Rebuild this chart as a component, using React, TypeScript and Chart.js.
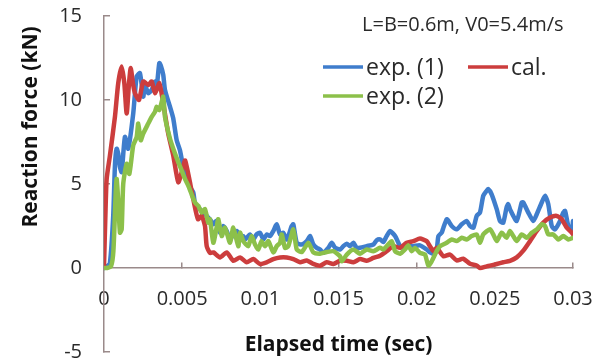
import React, { useEffect, useRef } from "react";
import { Chart, registerables } from "chart.js";

Chart.register(...registerables);

// ---------- data ----------
const xTickValues = [0, 0.005, 0.01, 0.015, 0.02, 0.025, 0.03];
const xTickLabels = ["0", "0.005", "0.01", "0.015", "0.02", "0.025", "0.03"];
const yTickValues = [-5, 0, 5, 10, 15];
const yTickLabels = ["-5", "0", "5", "10", "15"];
const seriesNames = ["exp. (1)", "cal.", "exp. (2)"];
const noteText = "L=B=0.6m, V0=5.4m/s";
const xTitle = "Elapsed time (sec)";
const yTitle = "Reaction force (kN)";

const exp1Time = [
  0, 0.0002, 0.00038, 0.00059, 0.0007, 0.00081, 0.00091, 0.00102, 0.00113, 0.00134,
  0.00155, 0.00187, 0.00209, 0.0023, 0.00251, 0.00262, 0.00283, 0.00305, 0.00326, 0.00337,
  0.00354, 0.00365, 0.00379, 0.0039, 0.00422, 0.00443, 0.00465, 0.00486, 0.00507, 0.00529,
  0.0055, 0.00571, 0.00582, 0.00593, 0.00614, 0.00635, 0.00657, 0.00678, 0.00699, 0.0072,
  0.00742, 0.00763, 0.00785, 0.00806, 0.00827, 0.00849, 0.0087, 0.00891, 0.00902, 0.00934,
  0.00955, 0.00976, 0.00998, 0.0102, 0.01041, 0.01062, 0.01083, 0.01105, 0.01126, 0.01147,
  0.01169, 0.01201, 0.01211, 0.01233, 0.01265, 0.01297, 0.01318, 0.01339, 0.01361, 0.01382,
  0.01403, 0.01435, 0.01457, 0.01478, 0.0151, 0.01531, 0.01553, 0.01574, 0.01595, 0.01616,
  0.01638, 0.0168, 0.01723, 0.01744, 0.01766, 0.01787, 0.01808, 0.0183, 0.01862, 0.01894,
  0.01915, 0.01936, 0.01979, 0.02021, 0.02064, 0.02085, 0.02107, 0.02128, 0.02139, 0.0216,
  0.02171, 0.02192, 0.02203, 0.02224, 0.02256, 0.02288, 0.0232, 0.02341, 0.02363, 0.02384,
  0.02405, 0.02426, 0.02448, 0.02458, 0.02479, 0.02512, 0.02533, 0.02554, 0.02575, 0.02586,
  0.02597, 0.0264, 0.02672, 0.02682, 0.02714, 0.02746, 0.02768, 0.028, 0.02821, 0.02842,
  0.02864, 0.02885, 0.02917, 0.02938, 0.02949, 0.0297, 0.02992, 0.03,
];
const exp1Force = [
  0, 0.1, 0.3, 3.1, 6.1, 7.1, 6.8, 6.0, 5.7, 7.8,
  7.1, 9.2, 11.4, 11.6, 10.2, 10.9, 10.4, 10.6, 11.1, 10.8,
  12.2, 12.0, 11.5, 10.6, 9.6, 8.9, 7.6, 7.0, 6.0, 5.3,
  4.8, 4.5, 3.8, 3.7, 3.5, 3.3, 3.1, 2.9, 2.6, 2.8,
  2.1, 2.5, 2.2, 1.7, 2.0, 2.2, 1.9, 1.9, 1.7, 2.0,
  1.7, 2.0, 2.1, 1.7, 2.0, 1.9, 2.2, 2.6, 2.0, 2.1,
  1.7, 2.5, 2.6, 1.5, 1.4, 1.6, 1.9, 1.4, 1.2, 1.1,
  0.9, 1.2, 1.5, 1.2, 1.1, 1.3, 1.45, 1.3, 1.5, 1.2,
  1.2, 1.3, 1.4, 1.65, 1.7, 1.55, 1.9, 2.2, 1.9, 1.3,
  1.2, 1.3, 1.3, 1.35, 1.1, 0.93, 0.85, 1.1, 1.9, 2.1,
  2.4, 2.9, 2.8, 2.5, 2.3, 2.6, 2.8, 2.5, 2.4, 3.1,
  3.3, 4.3, 4.6, 4.7, 4.4, 3.5, 2.8, 2.7, 3.6, 3.8,
  3.5, 2.8, 3.9, 3.9, 3.3, 2.8, 3.2, 3.9, 4.3, 3.8,
  2.5, 2.3, 2.8, 3.3, 3.4, 2.5, 2.2, 2.8,
];

const calTime = [
  0, 0.0001, 0.00017, 0.00038, 0.0007, 0.00091, 0.00113, 0.0013, 0.00145, 0.0016,
  0.00171, 0.00185, 0.00198, 0.00224, 0.00251, 0.00283, 0.00305, 0.00326, 0.00354, 0.00379,
  0.00411, 0.00443, 0.00475, 0.00497, 0.00518, 0.0053, 0.0055, 0.00571, 0.00601, 0.00625,
  0.00646, 0.00657, 0.00678, 0.007, 0.00742, 0.00785, 0.00827, 0.0087, 0.00913, 0.00955,
  0.00998, 0.0104, 0.01083, 0.01126, 0.01169, 0.01211, 0.01254, 0.01297, 0.01339, 0.01382,
  0.01425, 0.01467, 0.0151, 0.01553, 0.01595, 0.01638, 0.0168, 0.01723, 0.01766, 0.01808,
  0.01851, 0.01894, 0.01936, 0.01979, 0.02021, 0.02064, 0.02085, 0.02107, 0.02128, 0.02171,
  0.02213, 0.02256, 0.02298, 0.02341, 0.02384, 0.02405, 0.02448, 0.02469, 0.02512, 0.02554,
  0.02597, 0.0264, 0.02682, 0.02725, 0.02768, 0.0281, 0.02853, 0.02896, 0.02928, 0.0296,
  0.02992, 0.03,
];
const calForce = [
  0.1, 3.5, 5.3, 6.7, 9.0, 11.0, 12.0, 11.0, 9.2, 11.0,
  11.9, 11.0, 10.4, 10.0, 11.1, 10.9, 11.1, 10.4, 11.0, 9.8,
  8.0, 6.7, 5.1, 5.7, 6.4, 6.0, 5.1, 4.1, 2.9, 3.1,
  2.5, 1.3, 0.9, 0.93, 0.63, 0.93, 0.43, 0.63, 0.34, 0.53,
  0.24, 0.34, 0.53, 0.63, 0.63, 0.53, 0.34, 0.45, 0.24, 0.14,
  0.34, 0.24, 0.43, 0.43, 0.34, 0.53, 0.43, 0.6, 0.73, 1.0,
  1.3, 1.2, 1.5, 1.6, 1.75, 1.6, 1.3, 1.0, 1.2, 0.7,
  0.8, 0.45, 0.55, 0.25, 0.15, 0.0, 0.1, 0.14, 0.24, 0.34,
  0.43, 0.63, 1.03, 1.6, 2.2, 2.7, 3.0, 3.1, 2.9, 2.4,
  2.1, 2.0,
];

const exp2Time = [
  0, 0.0002, 0.00045, 0.0006, 0.00075, 0.00081, 0.00091, 0.00102, 0.00113, 0.00123,
  0.00145, 0.00162, 0.00187, 0.00209, 0.00219, 0.00235, 0.00251, 0.00283, 0.00305, 0.00326,
  0.00337, 0.00354, 0.00379, 0.0039, 0.00422, 0.00443, 0.00475, 0.00497, 0.00518, 0.00539,
  0.0056, 0.00582, 0.00603, 0.00625, 0.00646, 0.00667, 0.00678, 0.00699, 0.0072, 0.00731,
  0.00753, 0.00774, 0.00806, 0.00827, 0.00859, 0.0087, 0.00891, 0.00923, 0.00944, 0.00966,
  0.00987, 0.01008, 0.0103, 0.01051, 0.01083, 0.01105, 0.01126, 0.01137, 0.01158, 0.01179,
  0.01211, 0.01233, 0.01265, 0.01307, 0.01339, 0.01382, 0.01425, 0.01467, 0.0151, 0.01521,
  0.01553, 0.01595, 0.01638, 0.0168, 0.01723, 0.01766, 0.01787, 0.01808, 0.0184, 0.01862,
  0.01894, 0.01925, 0.01947, 0.01968, 0.0199, 0.02021, 0.02053, 0.02075, 0.02096, 0.02128,
  0.02149, 0.02192, 0.02224, 0.02256, 0.02288, 0.0232, 0.02352, 0.02384, 0.02405, 0.02426,
  0.02469, 0.0249, 0.02512, 0.02544, 0.02575, 0.02597, 0.02618, 0.0264, 0.02672, 0.02704,
  0.02736, 0.02768, 0.028, 0.02821, 0.02842, 0.02874, 0.02906, 0.02938, 0.0297, 0.03,
];
const exp2Force = [
  0, 0, 0.1, 1.0, 4.5, 5.3, 4.0, 2.1, 2.3, 5.0,
  6.2, 5.6, 7.3, 7.8, 8.6, 7.6, 8.0, 8.6, 9.0, 9.3,
  9.6, 9.4, 10.2, 9.0, 7.7, 7.1, 6.3, 5.8, 5.3, 4.9,
  4.4, 3.9, 3.7, 3.3, 3.5, 2.7, 2.9, 1.5, 2.4, 2.9,
  1.9, 2.4, 1.5, 2.4, 1.3, 2.1, 1.6, 1.3, 1.9, 1.4,
  1.1, 1.6, 1.3, 1.6, 0.93, 1.3, 1.5, 2.0, 1.2, 1.3,
  2.3, 1.1, 0.95, 1.5, 0.93, 0.85, 0.95, 1.0, 0.7, 0.4,
  0.8, 1.1, 0.85, 1.1, 1.0, 1.2, 1.1, 1.3, 1.6, 1.0,
  0.85, 1.1, 1.35, 1.0, 1.2, 0.9, 0.8, 0.14, 0.4, 1.0,
  1.3, 1.5, 1.7, 1.6, 1.8, 1.7, 1.9, 2.0, 1.5, 2.0,
  2.3, 2.0, 1.6, 2.1, 1.8, 2.2, 1.9, 1.6, 2.0, 1.8,
  2.1, 2.3, 2.6, 2.5, 2.0, 2.0, 1.7, 1.9, 1.7, 1.8,
];

// ---------- styles ----------
const BLUE = "#3f7dcc";
const RED = "#cc3d3d";
const GREEN = "#8cc04a";
const AXIS = "#9a8a8a";
const TEXT = "#2a2a2a";
const FONT = "'Open Sans', 'DejaVu Sans', sans-serif";

const toPoints = (t: number[], v: number[]) => t.map((x, i) => ({ x, y: v[i] }));

const clearPadding = (s: any) => {
  s.paddingTop = 0;
  s.paddingBottom = 0;
  s.paddingLeft = 0;
  s.paddingRight = 0;
};

const overlayPlugin = {
  id: "overlay",
  afterDraw(chart: any) {
    const ctx = chart.ctx as CanvasRenderingContext2D;
    ctx.save();
    ctx.fillStyle = TEXT;
    ctx.textBaseline = "alphabetic";
    ctx.textAlign = "left";
    ctx.font = `20px ${FONT}`;
    ctx.fillText(noteText, 362, 31);

    const items = [
      { label: seriesNames[0], color: BLUE, x: 323, y: 67 },
      { label: seriesNames[1], color: RED, x: 468, y: 67 },
      { label: seriesNames[2], color: GREEN, x: 323, y: 96 },
    ];
    ctx.font = `23px ${FONT}`;
    ctx.lineCap = "butt";
    for (const it of items) {
      ctx.strokeStyle = it.color;
      ctx.lineWidth = 3.5;
      ctx.beginPath();
      ctx.moveTo(it.x, it.y);
      ctx.lineTo(it.x + 40, it.y);
      ctx.stroke();
      ctx.fillText(it.label, it.x + 43, it.y + 8);
    }

    // y-axis title (placed above centre, as in the reference)
    ctx.save();
    ctx.translate(31, 127);
    ctx.rotate(-Math.PI / 2);
    ctx.font = `bold 21px ${FONT}`;
    ctx.fillStyle = "#111";
    ctx.textAlign = "center";
    ctx.textBaseline = "middle";
    ctx.fillText(yTitle, 0, 0);
    ctx.restore();

    ctx.restore();
  },
};

export default function App() {
  const canvasRef = useRef<HTMLCanvasElement | null>(null);

  useEffect(() => {
    const canvas = canvasRef.current;
    if (!canvas) return;
    const lineDs = (label: string, t: number[], v: number[], color: string) => ({
      label,
      data: toPoints(t, v),
      borderColor: color,
      backgroundColor: color,
      borderWidth: 4.5,
      pointRadius: 0,
      tension: 0.2,
      borderJoinStyle: "round" as const,
      borderCapStyle: "round" as const,
      fill: false,
    });
    const chart = new Chart(canvas, {
      type: "line",
      data: {
        datasets: [
          lineDs(seriesNames[2], exp2Time, exp2Force, GREEN),
          lineDs(seriesNames[1], calTime, calForce, RED),
          lineDs(seriesNames[0], exp1Time, exp1Force, BLUE),
        ],
      },
      options: {
        animation: false,
        responsive: false,
        devicePixelRatio: 1,
        layout: { padding: { left: 0, right: 32, top: 16, bottom: 11 } },
        plugins: { legend: { display: false }, tooltip: { enabled: false } },
        scales: {
          x: {
            type: "linear",
            min: 0,
            max: 0.03,
            position: { y: 0 } as any,
            afterBuildTicks: (s: any) => {
              s.ticks = xTickValues.map((value) => ({ value }));
            },
            afterFit: (s: any) => {
              s.height = 90;
              clearPadding(s);
            },
            ticks: {
              callback: (_v: any, i: number) => xTickLabels[i],
              font: { family: FONT, size: 20 },
              color: TEXT,
              padding: 25,
              maxRotation: 0,
              autoSkip: false,
            },
            grid: { drawOnChartArea: false, drawTicks: true, tickLength: -6, color: AXIS, lineWidth: 1.5 },
            border: { display: true, color: AXIS, width: 1.5 },
            title: {
              display: true,
              text: xTitle,
              font: { family: FONT, size: 21, weight: "bold" },
              color: "#111",
              padding: { top: 0, bottom: 0 },
            },
          },
          y: {
            type: "linear",
            min: -5,
            max: 15,
            afterBuildTicks: (s: any) => {
              s.ticks = yTickValues.map((value) => ({ value }));
            },
            afterFit: (s: any) => {
              s.width = 104;
              clearPadding(s);
            },
            ticks: {
              callback: (_v: any, i: number) => yTickLabels[i],
              font: { family: FONT, size: 20 },
              color: TEXT,
              padding: 28,
            },
            grid: { drawOnChartArea: false, drawTicks: true, tickLength: -6, color: AXIS, lineWidth: 1.5 },
            border: { display: true, color: AXIS, width: 1.5 },
            title: { display: false, text: yTitle },
          },
        },
      },
      plugins: [overlayPlugin],
    });
    return () => chart.destroy();
  }, []);

  return (
    <div style={{ position: "absolute", left: 0, top: 0, width: 605, height: 363, background: "#fff" }}>
      <canvas ref={canvasRef} width={605} height={363} />
    </div>
  );
}
